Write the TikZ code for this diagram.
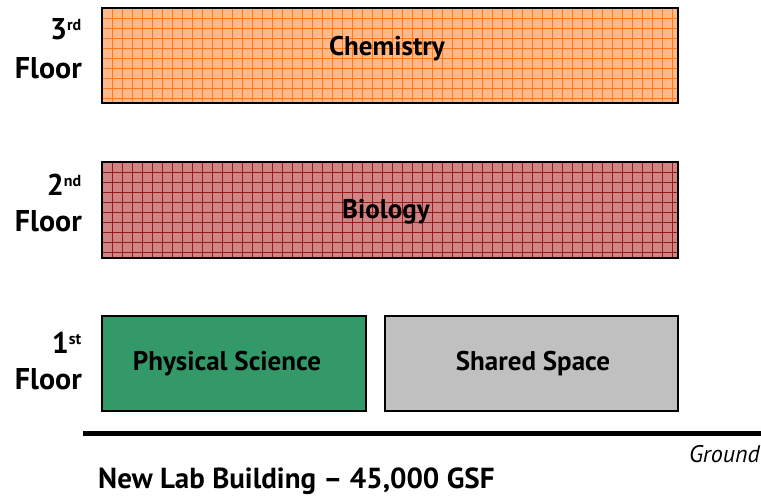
\documentclass[tikz,border=0pt]{standalone}
\usepackage{fontspec}
\setmainfont{PT Sans}
\definecolor{chemfill}{RGB}{255,184,138}
\definecolor{chemline}{RGB}{255,120,25}
\definecolor{biofill}{RGB}{208,132,132}
\definecolor{bioline}{RGB}{150,25,25}
\definecolor{physfill}{RGB}{52,153,104}
\definecolor{sharedfill}{RGB}{192,192,192}
\tikzset{
  x=1pt, y=1pt,
  box/.style={draw=black, line width=1.5pt, minimum height=95pt, inner sep=0pt},
  gridbox/.style={box, fill=#1fill, path picture={
      \foreach \k in {1,...,60}{
        \draw[#1line, line width=0.75pt] ([xshift=\k*10pt]path picture bounding box.south west) -- ([xshift=\k*10pt]path picture bounding box.north west);}
      \foreach \k in {1,...,10}{
        \draw[#1line, line width=0.75pt] ([yshift=-\k*10pt]path picture bounding box.north west) -- ([yshift=-\k*10pt]path picture bounding box.north east);}
    }},
  lbl/.style={font=\bfseries\fontsize{27}{30}\selectfont, inner sep=0pt},
  floor/.style={font=\bfseries\fontsize{30}{33}\selectfont, anchor=base east, inner sep=0pt},
}
\newcommand{\supr}[1]{\textsuperscript{\fontsize{16}{16}\selectfont #1}}
\begin{document}
\begin{tikzpicture}
\useasboundingbox (0,0) rectangle (761,497);
% boxes
\node[gridbox=chem, minimum width=576pt, minimum height=95pt] (chem) at (390,441.5) {};
\node[lbl] (chemlbl) at (387,448) {Chemistry};
\node[gridbox=bio, minimum width=576pt, minimum height=96pt] (bio) at (390,287) {};
\node[lbl] (biolbl) at (386,285) {Biology};
\node[box, fill=physfill, minimum width=264pt] (phys) at (234,133.5) {};
\node[lbl] (physlbl) at (227,133.5) {Physical Science};
\node[box, fill=sharedfill, minimum width=293pt] (shared) at (531.5,133.5) {};
\node[lbl] (sharedlbl) at (533,133.5) {Shared Space};
% floor labels
\node[floor] (f3n) at (82,457) {3\supr{rd}};
\node[floor] (f3) at (82,418) {Floor};
\node[floor] (f2n) at (82,301) {2\supr{nd}};
\node[floor] (f2) at (82,265) {Floor};
\node[floor] (f1n) at (82,143) {1\supr{st}};
\node[floor] (f1) at (82,107) {Floor};
% ground
\coordinate (gl) at (83,63);
\coordinate (gr) at (761,63);
\draw[line width=5pt] (gl) -- (gr);
\node[font=\itshape\fontsize{24}{28}\selectfont, anchor=base east, inner sep=0pt] (ground) at (760,34) {Ground};
\node[font=\bfseries\fontsize{29}{32}\selectfont, anchor=base west, inner sep=0pt] (title) at (98,8) {New Lab Building – 45,000 GSF};
\end{tikzpicture}
\end{document}
